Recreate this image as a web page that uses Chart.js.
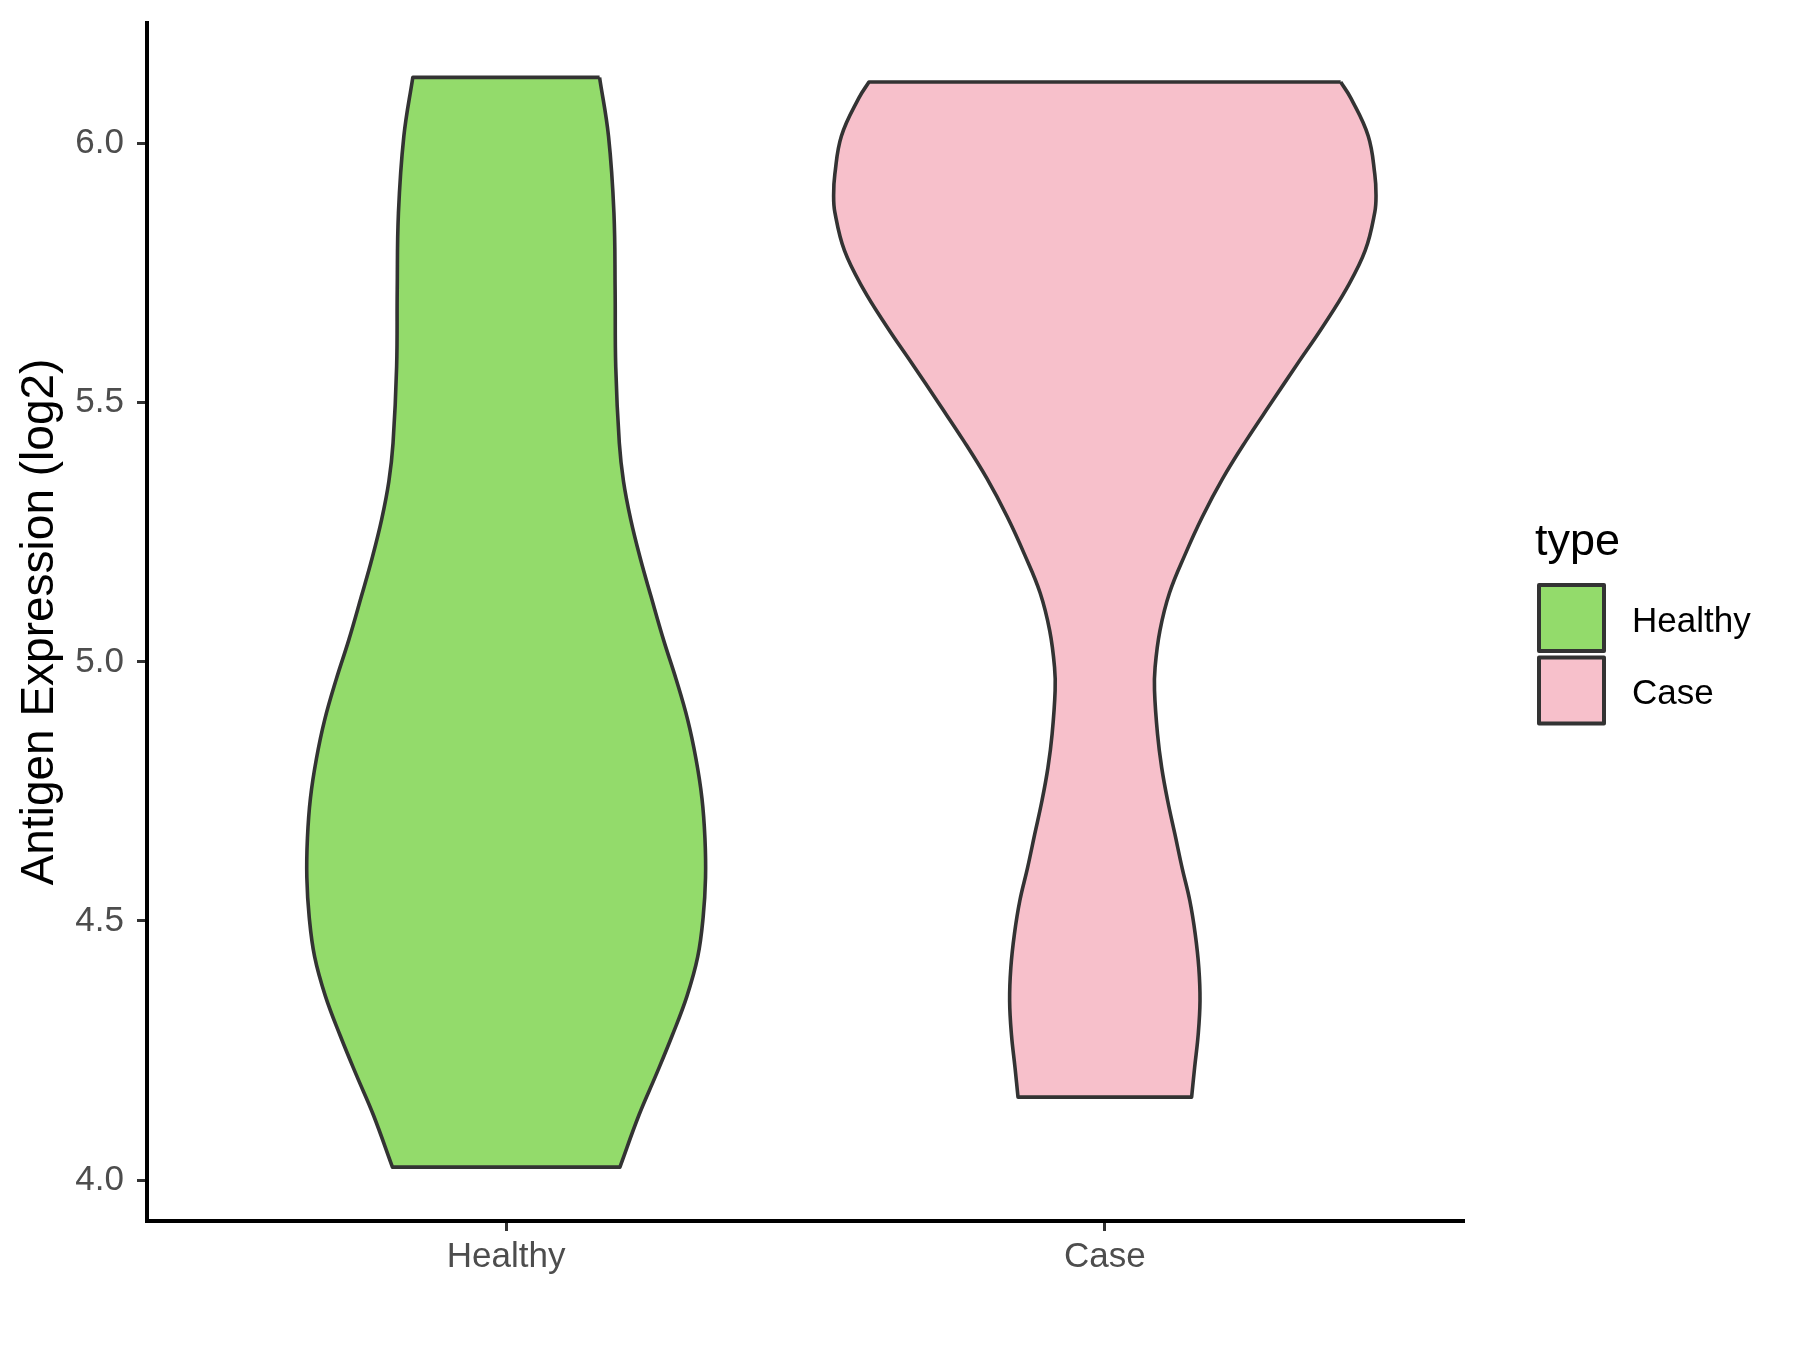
<!DOCTYPE html>
<html>
<head>
<meta charset="utf-8">
<title>Antigen Expression (log2) - violin</title>
<script src="https://cdn.jsdelivr.net/npm/chart.js@4.4.1/dist/chart.umd.min.js"></script>
<style>
  html, body { margin: 0; padding: 0; background: #fff; }
  #wrap { width: 1800px; height: 1350px; }
</style>
</head>
<body>
<div id="wrap"><canvas id="violin" width="1800" height="1350"></canvas></div>
<script>
const categories = ['Healthy', 'Case'];
const yTicks = [4.0, 4.5, 5.0, 5.5, 6.0];

// violin outlines: y value and half width (in category units)
const healthyY = [6.128, 6.014, 5.866, 5.718, 5.570, 5.422, 5.348, 5.275, 5.200, 5.126, 5.042, 4.966,
                  4.889, 4.813, 4.737, 4.660, 4.584, 4.507, 4.431, 4.355, 4.278, 4.202, 4.126, 4.025];
const healthyHalfWidth = [0.156, 0.171, 0.180, 0.182, 0.183, 0.189, 0.196, 0.208, 0.224, 0.242, 0.263, 0.284,
                          0.303, 0.317, 0.327, 0.332, 0.333, 0.329, 0.320, 0.302, 0.277, 0.250, 0.222, 0.190];

const caseY = [6.119, 6.088, 6.015, 5.941, 5.901, 5.868, 5.794, 5.721, 5.647, 5.574, 5.500, 5.427, 5.354,
               5.280, 5.207, 5.133, 5.060, 4.990, 4.945, 4.861, 4.796, 4.732, 4.668, 4.603, 4.539, 4.475,
               4.410, 4.346, 4.281, 4.217, 4.160];
const caseHalfWidth = [0.394, 0.411, 0.440, 0.451, 0.453, 0.451, 0.435, 0.404, 0.364, 0.321, 0.278, 0.236, 0.197,
                       0.163, 0.134, 0.108, 0.092, 0.084, 0.083, 0.088, 0.095, 0.105, 0.117, 0.129, 0.142, 0.151,
                       0.157, 0.159, 0.156, 0.150, 0.145];

const FONT = "'Liberation Sans', Arial, Helvetica, sans-serif";
const fillColors = ['#93DB6B', '#F7C0CB'];
const outline = '#333333';

// closed outline: right side top->bottom, left side bottom->top
// corner points doubled so the spline keeps the flat ends sharp
function violinPoints(center, ys, hws) {
  const n = ys.length;
  const pts = [];
  for (let i = 0; i < n; i++) {
    const p = { x: center + hws[i], y: ys[i] };
    pts.push(p);
    if (i === 0 || i === n - 1) pts.push({ ...p });
  }
  for (let i = n - 1; i >= 0; i--) {
    const p = { x: center - hws[i], y: ys[i] };
    pts.push(p);
    if (i === 0 || i === n - 1) pts.push({ ...p });
  }
  pts.push({ x: center + hws[0], y: ys[0] });
  return pts;
}

const legendPlugin = {
  id: 'typeLegend',
  afterDraw(chart) {
    const ctx = chart.ctx;
    ctx.save();
    ctx.textAlign = 'left';
    ctx.textBaseline = 'alphabetic';
    ctx.fillStyle = '#000';
    ctx.font = '45px ' + FONT;
    ctx.fillText('type', 1535, 555);
    categories.forEach((name, i) => {
      const top = 585 + i * 72.5;
      ctx.fillStyle = fillColors[i];
      ctx.fillRect(1539, top, 65, 66);
      ctx.lineWidth = 4;
      ctx.lineJoin = 'round';
      ctx.strokeStyle = outline;
      ctx.strokeRect(1539, top, 65, 66);
      ctx.fillStyle = '#000';
      ctx.font = '35px ' + FONT;
      ctx.fillText(name, 1632, top + 46.5);
    });
    ctx.restore();
  }
};

function violinDataset(i, ys, hws) {
  return {
    label: categories[i],
    data: violinPoints(i + 1, ys, hws),
    backgroundColor: fillColors[i],
    borderColor: outline,
    borderWidth: 3.6,
    borderJoinStyle: 'round',
    fill: 'shape',
    tension: 0.4,
    pointRadius: 0
  };
}

const ctx = document.getElementById('violin').getContext('2d');
new Chart(ctx, {
  type: 'line',
  data: {
    datasets: [
      violinDataset(0, healthyY, healthyHalfWidth),
      violinDataset(1, caseY, caseHalfWidth)
    ]
  },
  options: {
    responsive: false,
    animation: false,
    devicePixelRatio: 1,
    layout: { padding: { top: 23, right: 336, bottom: 0, left: 0 } },
    plugins: {
      legend: { display: false },
      tooltip: { enabled: false }
    },
    scales: {
      x: {
        type: 'linear',
        min: 0.4,
        max: 2.6,
        afterBuildTicks: (scale) => { scale.ticks = categories.map((c, i) => ({ value: i + 1 })); },
        afterFit: (scale) => { scale.height = 129; },
        ticks: {
          callback: (v) => categories[v - 1],
          color: '#4d4d4d',
          font: { family: FONT, size: 35 },
          padding: 5,
          maxRotation: 0
        },
        grid: { drawOnChartArea: false, tickLength: 10, tickColor: '#333', tickWidth: 3 },
        border: { display: true, color: '#000', width: 4 }
      },
      y: {
        type: 'linear',
        min: 3.921,
        max: 6.233,
        afterBuildTicks: (scale) => { scale.ticks = yTicks.map(v => ({ value: v })); },
        afterFit: (scale) => {
          scale.width = 147;
          scale.paddingTop = 0;
          scale.paddingBottom = 0;
        },
        ticks: {
          callback: (v) => v.toFixed(1),
          color: '#4d4d4d',
          font: { family: FONT, size: 35, lineHeight: 0.6 },
          padding: 13
        },
        grid: { drawOnChartArea: false, tickLength: 10, tickColor: '#333', tickWidth: 3 },
        border: { display: true, color: '#000', width: 4 },
        title: {
          display: true,
          text: 'Antigen Expression (log2)',
          color: '#000',
          font: { family: FONT, size: 46 },
          padding: { top: 13, bottom: 0 }
        }
      }
    }
  },
  plugins: [legendPlugin]
});
</script>
</body>
</html>
